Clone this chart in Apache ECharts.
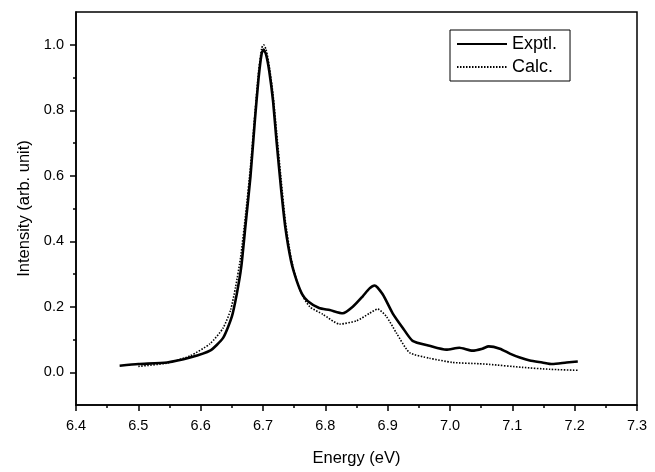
<!DOCTYPE html>
<html>
<head>
<meta charset="utf-8">
<script src="https://cdn.jsdelivr.net/npm/echarts@6/dist/echarts.min.js"></script>
<style>html,body{margin:0;padding:0;background:#fff}#c{width:655px;height:472px}</style>
</head>
<body>
<div id="c"></div>
<script>
// Experimental spectrum (energy eV, intensity)
const exptlE = [6.470,6.500,6.546,6.583,6.615,6.636,6.650,6.658,6.665,6.672,6.680,6.687,6.693,6.698,6.701,6.705,6.710,6.716,6.722,6.729,6.736,6.745,6.754,6.763,6.772,6.790,6.807,6.828,6.844,6.860,6.871,6.879,6.892,6.908,6.924,6.940,6.967,6.994,7.015,7.036,7.052,7.062,7.080,7.096,7.112,7.128,7.148,7.164,7.187,7.205];
const exptlI = [0.020,0.025,0.030,0.045,0.066,0.105,0.170,0.240,0.320,0.450,0.600,0.770,0.900,0.975,0.985,0.970,0.920,0.830,0.700,0.560,0.440,0.340,0.280,0.238,0.217,0.196,0.190,0.180,0.200,0.232,0.256,0.265,0.238,0.180,0.136,0.096,0.081,0.069,0.075,0.066,0.072,0.079,0.072,0.057,0.045,0.036,0.030,0.025,0.030,0.033];
// Calculated spectrum
const calcE = [6.500,6.546,6.583,6.615,6.636,6.648,6.656,6.664,6.672,6.680,6.687,6.693,6.698,6.701,6.705,6.710,6.716,6.722,6.729,6.736,6.745,6.754,6.763,6.775,6.796,6.823,6.850,6.871,6.884,6.898,6.914,6.935,6.967,7.004,7.047,7.063,7.116,7.160,7.205];
const calcI = [0.018,0.028,0.050,0.087,0.135,0.190,0.260,0.350,0.480,0.630,0.790,0.920,0.990,1.000,0.985,0.935,0.850,0.730,0.590,0.460,0.350,0.280,0.235,0.200,0.177,0.147,0.157,0.180,0.193,0.170,0.120,0.060,0.043,0.030,0.026,0.024,0.015,0.009,0.006];
const yMajor = [0.0,0.2,0.4,0.6,0.8,1.0];
const yMinor = [0.1,0.3,0.5,0.7,0.9];
const seriesNames = ['Exptl.','Calc.'];

const zip = (a,b) => a.map((v,i)=>[v,b[i]]);
const font = '"Liberation Sans", Arial, sans-serif';
const chart = echarts.init(document.getElementById('c'), null, {renderer:'canvas'});
chart.setOption({
  animation:false,
  backgroundColor:'#fff',
  grid:{left:76,right:18,top:12,bottom:55,show:true,borderColor:'#000',borderWidth:1.5,backgroundColor:'transparent'},
  legend:{
    orient:'vertical',left:450,top:30,
    data:seriesNames,
    itemWidth:50,itemHeight:12,itemGap:5,
    padding:[5,13,5,6],
    borderColor:'#000',borderWidth:1,
    itemStyle:{color:'transparent',borderWidth:0},
    textStyle:{fontFamily:font,fontSize:18,color:'#000'}
  },
  xAxis:{
    type:'value',min:6.4,max:7.3,interval:0.1,
    name:'Energy (eV)',nameLocation:'middle',nameGap:45,
    nameTextStyle:{fontFamily:font,fontSize:16.5,color:'#000'},
    axisLine:{onZero:false,lineStyle:{color:'#000',width:1.5}},
    axisTick:{length:6,lineStyle:{color:'#000',width:1.5}},
    minorTick:{show:true,splitNumber:2,length:3,lineStyle:{color:'#000',width:1.5}},
    axisLabel:{fontFamily:font,fontSize:14.5,color:'#000',margin:13,formatter:v=>v.toFixed(1)},
    splitLine:{show:false}
  },
  yAxis:[{
    type:'value',min:-0.1,max:1.1,
    name:'Intensity (arb. unit)',nameLocation:'middle',nameGap:38,
    nameTextStyle:{fontFamily:font,fontSize:16.5,color:'#000'},
    axisLine:{onZero:false,lineStyle:{color:'#000',width:1.5}},
    axisTick:{length:6,lineStyle:{color:'#000',width:1.5},customValues:yMajor},
    axisLabel:{fontFamily:font,fontSize:14.5,color:'#000',margin:12,customValues:yMajor,formatter:v=>v.toFixed(1)},
    splitLine:{show:false}
  },{
    type:'value',min:-0.1,max:1.1,position:'left',
    axisLine:{show:false,onZero:false},
    axisTick:{length:3,lineStyle:{color:'#000',width:1.5},customValues:yMinor},
    axisLabel:{show:false},
    splitLine:{show:false}
  }],
  series:[{
    name:seriesNames[0],type:'line',data:zip(exptlE,exptlI),symbol:'none',smooth:0.2,
    lineStyle:{color:'#000',width:2.6},itemStyle:{color:'#000'},z:3
  },{
    name:seriesNames[1],type:'line',data:zip(calcE,calcI),symbol:'none',smooth:0.2,
    lineStyle:{color:'#000',width:1.6,type:[1.5,1.5]},itemStyle:{color:'#000'},z:2
  }]
});
</script>
</body>
</html>
